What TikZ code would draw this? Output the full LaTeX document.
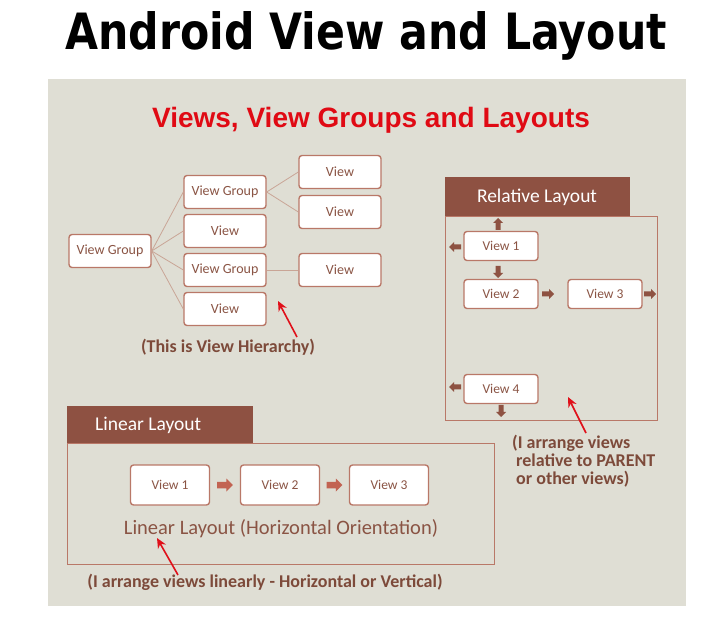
\documentclass[tikz,border=0pt]{standalone}
\usepackage{fontspec}
\setmainfont{Carlito}
\newfontfamily\djv{DejaVu Sans}
\newfontfamily\lib{Liberation Sans}
\usetikzlibrary{arrows.meta,calc}
\definecolor{panel}{HTML}{DFDED4}
\definecolor{hdr}{HTML}{8E5142}
\definecolor{bord}{HTML}{B97868}
\definecolor{txt}{HTML}{8A5444}
\definecolor{dtxt}{HTML}{7D4A3A}
\definecolor{lnk}{HTML}{C9A596}
\definecolor{ttl}{HTML}{E00A14}
\definecolor{arr}{HTML}{8E5242}
\definecolor{arr2}{HTML}{C26352}
\definecolor{rarrow}{HTML}{E0101A}
\tikzset{
 vbox/.style={draw=bord, line width=1.4pt, fill=white, rounded corners=3pt, minimum width=82pt, minimum height=33pt, inner sep=0pt, text=txt, font=\fontsize{14}{16}\selectfont},
 rbox/.style={vbox, minimum width=74pt, minimum height=29pt, font=\fontsize{13.5}{16}\selectfont},
 lbox/.style={vbox, minimum width=79pt, minimum height=40pt, font=\fontsize{13.5}{16}\selectfont},
 link/.style={draw=lnk, line width=0.8pt},
 frame/.style={draw=bord, line width=0.8pt},
 hdrtext/.style={text=white, inner sep=0pt, font=\fontsize{19.5}{22}\selectfont},
 note/.style={text=dtxt, inner sep=0pt, font=\bfseries\fontsize{18}{18}\selectfont},
 redarr/.style={draw=rarrow, line width=1.6pt, -{Stealth[length=10pt,width=9pt]}},
 pics/blk/.style={code={\fill (-6,-2.5) -- (1,-2.5) -- (1,-5) -- (6,0) -- (1,5) -- (1,2.5) -- (-6,2.5) -- cycle;}},
}
\begin{document}
\begin{tikzpicture}[x=1pt,y=-1pt]
\useasboundingbox (0,0) rectangle (710,620);
\fill[white] (0,0) rectangle (710,620);
\fill[panel] (48,79) rectangle (686,606);
% title
\node[font=\djv\bfseries\fontsize{50}{56}\selectfont, anchor=base, inner sep=0pt] (title) at (366,50) {\scalebox{0.853}[1]{Android View and Layout}};
\node[font=\lib\bfseries\fontsize{28}{32}\selectfont, text=ttl, anchor=base, inner sep=0pt] (sub) at (371,128) {Views, View Groups and Layouts};
% hierarchy
\node[vbox] (root) at (110,251) {View Group};
\node[vbox] (g1) at (225,192) {View Group};
\node[vbox] (v1) at (225,231) {View};
\node[vbox] (g2) at (225,270) {View Group};
\node[vbox] (v2) at (225,309) {View};
\node[vbox] (v11) at (340,172) {View};
\node[vbox] (v12) at (340,212) {View};
\node[vbox] (v21) at (340,270) {View};
\draw[link] (root.east) -- (g1.west);
\draw[link] (root.east) -- (v1.west);
\draw[link] (root.east) -- (g2.west);
\draw[link] (root.east) -- (v2.west);
\draw[link] (g1.east) -- (v11.west);
\draw[link] (g1.east) -- (v12.west);
\draw[link] (g2.east) -- (v21.west);
\node[note] (hnote) at (228,347) {(This is View Hierarchy)};
\coordinate (ht) at (297,337);
\coordinate (hh) at (278,301);
\draw[redarr] (ht) -- (hh);
% relative layout
\fill[hdr] (445,177) rectangle (630,216);
\node[hdrtext] (rhdr) at (537,197) {Relative Layout};
\draw[frame] (445,216) rectangle (657,420);
\node[rbox] (r1) at (501,246) {View 1};
\node[rbox] (r2) at (501,294) {View 2};
\node[rbox] (r3) at (605,294) {View 3};
\node[rbox] (r4) at (501,389) {View 4};
\pic[color=arr, rotate=90] at (498,224) {blk};
\pic[color=arr, rotate=180] at (455,247) {blk};
\pic[color=arr, rotate=-90] at (498,272) {blk};
\pic[color=arr] at (548,294) {blk};
\pic[color=arr] at (650,294) {blk};
\pic[color=arr, rotate=180] at (455,387) {blk};
\pic[color=arr, rotate=-90] at (501,411) {blk};
\coordinate (rt) at (586,433);
\coordinate (rh) at (568,397);
\draw[redarr] (rt) -- (rh);
\node[note, align=left, anchor=north west] (rnote) at (512,435) {(I arrange views\\\hspace*{4pt}relative to PARENT\\\hspace*{4pt}or other views)};
% linear layout
\fill[hdr] (67,406) rectangle (253,443);
\node[hdrtext, anchor=west] (lhdr) at (95,425) {Linear Layout};
\draw[frame] (67,443) rectangle (494,564);
\node[lbox] (l1) at (170,485) {View 1};
\node[lbox] (l2) at (280,485) {View 2};
\node[lbox] (l3) at (389,485) {View 3};
\pic[color=arr2, scale=1.3] at ($(l1.east)!0.5!(l2.west)$) {blk};
\pic[color=arr2, scale=1.3] at ($(l2.east)!0.5!(l3.west)$) {blk};
\node[text=txt, inner sep=0pt, font=\fontsize{20.5}{22}\selectfont] (lcap) at (281,529) {Linear Layout (Horizontal Orientation)};
\coordinate (lt) at (178,575);
\coordinate (lh) at (157,538);
\draw[redarr] (lt) -- (lh);
\node[note] (lnote) at (265,582) {(I arrange views linearly - Horizontal or Vertical)};
\end{tikzpicture}
\end{document}
